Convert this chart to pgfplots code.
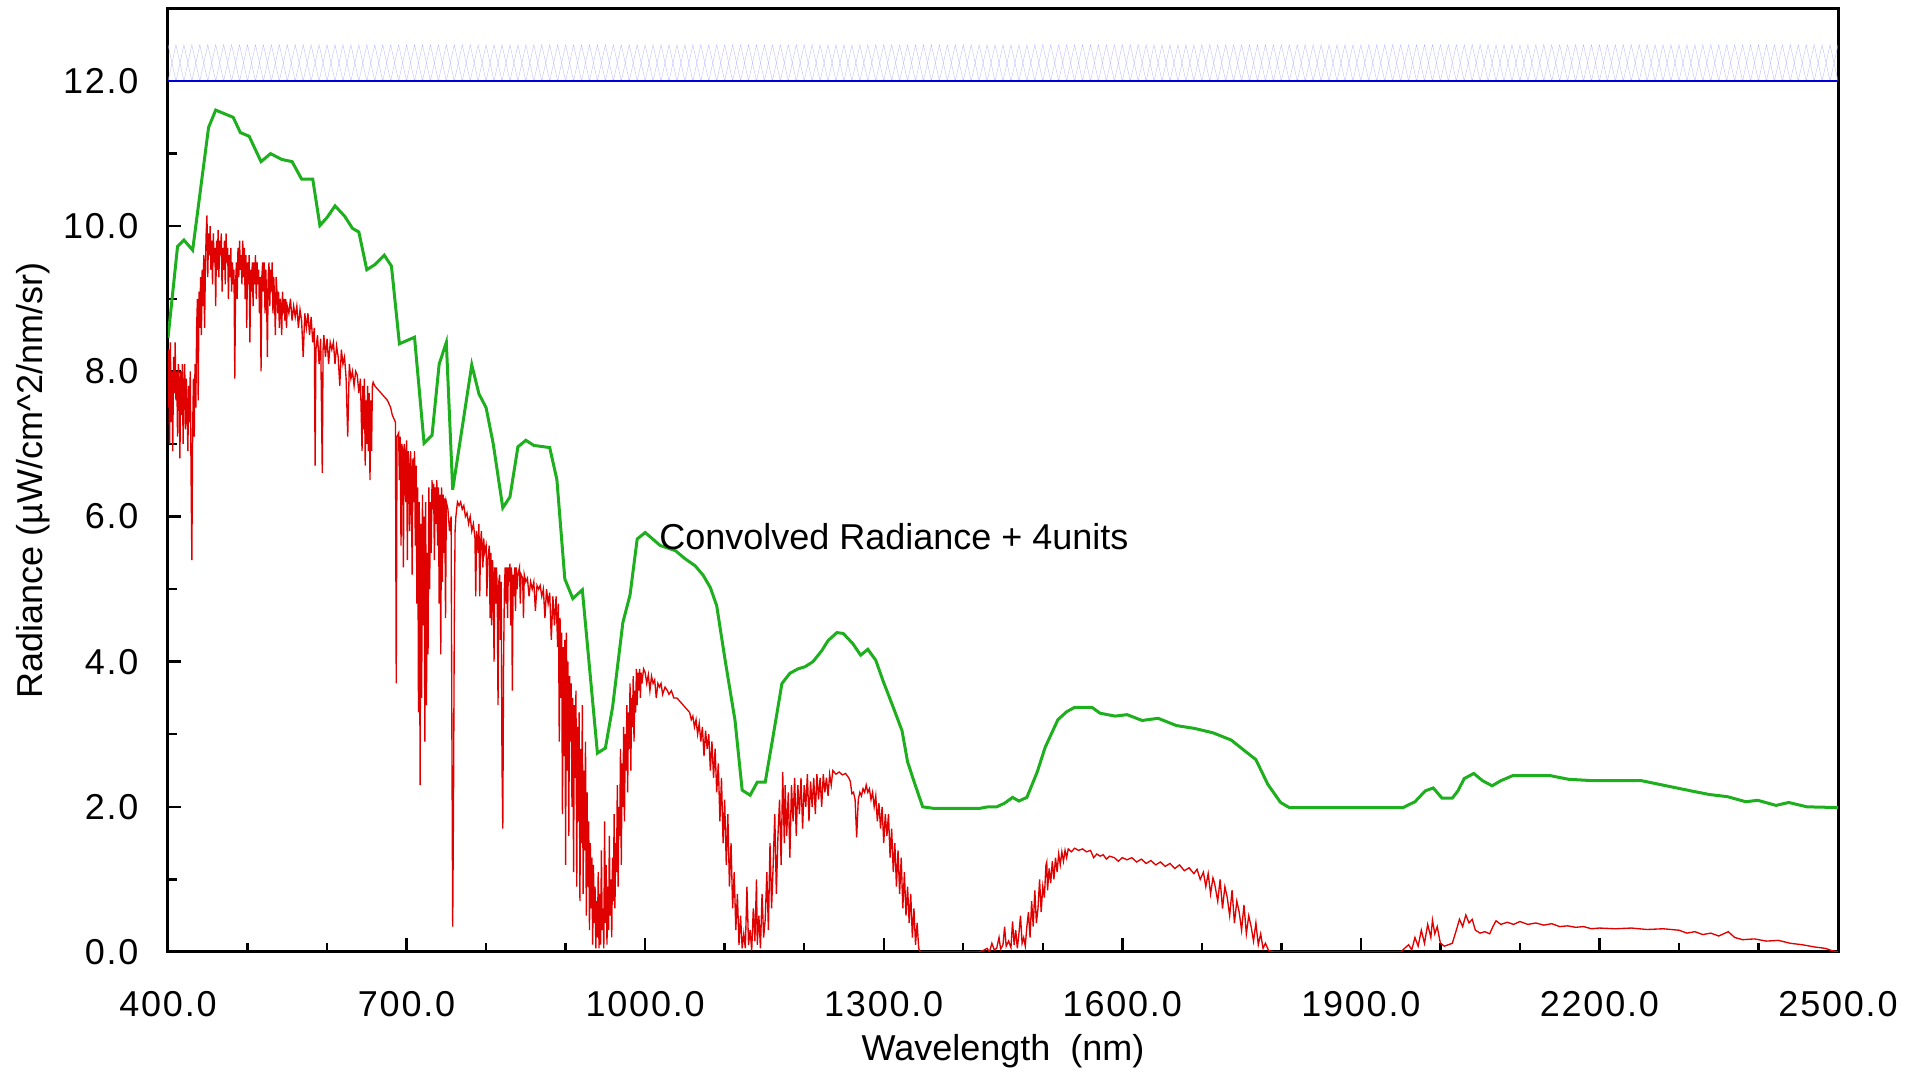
\documentclass[border=0pt]{standalone}
\usepackage{fontspec}
\setmainfont{Liberation Sans}
\newfontfamily\tickfont{Liberation Sans}[LetterSpace=5]
\usepackage{pgfplots}
\usepackage{pgfplotstable}
\pgfplotsset{compat=1.18}
\definecolor{specred}{RGB}{225,0,0}
\definecolor{specgreen}{RGB}{30,175,30}
\definecolor{specblue}{RGB}{0,0,215}

\pgfplotstableread[row sep=\\]{
x a b\\
400 12.5 12\\410 12 12.5\\420 12.5 12\\430 12 12.5\\440 12.5 12\\450 12 12.5\\460 12.5 12\\470 12 12.5\\480 12.5 12\\490 12 12.5\\
500 12.5 12\\510 12 12.5\\520 12.5 12\\530 12 12.5\\540 12.5 12\\550 12 12.5\\560 12.5 12\\570 12 12.5\\580 12.5 12\\590 12 12.5\\
600 12.5 12\\610 12 12.5\\620 12.5 12\\630 12 12.5\\640 12.5 12\\650 12 12.5\\660 12.5 12\\670 12 12.5\\680 12.5 12\\690 12 12.5\\
700 12.5 12\\710 12 12.5\\720 12.5 12\\730 12 12.5\\740 12.5 12\\750 12 12.5\\760 12.5 12\\770 12 12.5\\780 12.5 12\\790 12 12.5\\
800 12.5 12\\810 12 12.5\\820 12.5 12\\830 12 12.5\\840 12.5 12\\850 12 12.5\\860 12.5 12\\870 12 12.5\\880 12.5 12\\890 12 12.5\\
900 12.5 12\\910 12 12.5\\920 12.5 12\\930 12 12.5\\940 12.5 12\\950 12 12.5\\960 12.5 12\\970 12 12.5\\980 12.5 12\\990 12 12.5\\
1000 12.5 12\\1010 12 12.5\\1020 12.5 12\\1030 12 12.5\\1040 12.5 12\\1050 12 12.5\\1060 12.5 12\\1070 12 12.5\\1080 12.5 12\\1090 12 12.5\\
1100 12.5 12\\1110 12 12.5\\1120 12.5 12\\1130 12 12.5\\1140 12.5 12\\1150 12 12.5\\1160 12.5 12\\1170 12 12.5\\1180 12.5 12\\1190 12 12.5\\
1200 12.5 12\\1210 12 12.5\\1220 12.5 12\\1230 12 12.5\\1240 12.5 12\\1250 12 12.5\\1260 12.5 12\\1270 12 12.5\\1280 12.5 12\\1290 12 12.5\\
1300 12.5 12\\1310 12 12.5\\1320 12.5 12\\1330 12 12.5\\1340 12.5 12\\1350 12 12.5\\1360 12.5 12\\1370 12 12.5\\1380 12.5 12\\1390 12 12.5\\
1400 12.5 12\\1410 12 12.5\\1420 12.5 12\\1430 12 12.5\\1440 12.5 12\\1450 12 12.5\\1460 12.5 12\\1470 12 12.5\\1480 12.5 12\\1490 12 12.5\\
1500 12.5 12\\1510 12 12.5\\1520 12.5 12\\1530 12 12.5\\1540 12.5 12\\1550 12 12.5\\1560 12.5 12\\1570 12 12.5\\1580 12.5 12\\1590 12 12.5\\
1600 12.5 12\\1610 12 12.5\\1620 12.5 12\\1630 12 12.5\\1640 12.5 12\\1650 12 12.5\\1660 12.5 12\\1670 12 12.5\\1680 12.5 12\\1690 12 12.5\\
1700 12.5 12\\1710 12 12.5\\1720 12.5 12\\1730 12 12.5\\1740 12.5 12\\1750 12 12.5\\1760 12.5 12\\1770 12 12.5\\1780 12.5 12\\1790 12 12.5\\
1800 12.5 12\\1810 12 12.5\\1820 12.5 12\\1830 12 12.5\\1840 12.5 12\\1850 12 12.5\\1860 12.5 12\\1870 12 12.5\\1880 12.5 12\\1890 12 12.5\\
1900 12.5 12\\1910 12 12.5\\1920 12.5 12\\1930 12 12.5\\1940 12.5 12\\1950 12 12.5\\1960 12.5 12\\1970 12 12.5\\1980 12.5 12\\1990 12 12.5\\
2000 12.5 12\\2010 12 12.5\\2020 12.5 12\\2030 12 12.5\\2040 12.5 12\\2050 12 12.5\\2060 12.5 12\\2070 12 12.5\\2080 12.5 12\\2090 12 12.5\\
2100 12.5 12\\2110 12 12.5\\2120 12.5 12\\2130 12 12.5\\2140 12.5 12\\2150 12 12.5\\2160 12.5 12\\2170 12 12.5\\2180 12.5 12\\2190 12 12.5\\
2200 12.5 12\\2210 12 12.5\\2220 12.5 12\\2230 12 12.5\\2240 12.5 12\\2250 12 12.5\\2260 12.5 12\\2270 12 12.5\\2280 12.5 12\\2290 12 12.5\\
2300 12.5 12\\2310 12 12.5\\2320 12.5 12\\2330 12 12.5\\2340 12.5 12\\2350 12 12.5\\2360 12.5 12\\2370 12 12.5\\2380 12.5 12\\2390 12 12.5\\
2400 12.5 12\\2410 12 12.5\\2420 12.5 12\\2430 12 12.5\\2440 12.5 12\\2450 12 12.5\\2460 12.5 12\\2470 12 12.5\\2480 12.5 12\\2490 12 12.5\\
2500 12.5 12\\
}\bluetab

\pgfplotstableread{
x y
400 8.46
412 9.72
420 9.81
431 9.67
451 11.36
460 11.6
482 11.5
491 11.29
502 11.24
517 10.89
529 11.0
543 10.92
556 10.89
568 10.65
582 10.65
591 10.01
600 10.12
610 10.28
622 10.14
632 9.97
640 9.92
650 9.40
660 9.47
672 9.60
681 9.45
691 8.38
710 8.47
722 7.01
732 7.12
741 8.10
750 8.40
758 6.37
782 8.09
791 7.69
800 7.50
809 7.00
821 6.12
830 6.27
840 6.96
850 7.05
860 6.98
880 6.95
889 6.51
899 5.14
909 4.87
921 4.99
940 2.74
950 2.81
959 3.37
972 4.54
981 4.92
990 5.69
1000 5.78
1019 5.60
1038 5.53
1050 5.42
1063 5.32
1073 5.19
1082 5.02
1090 4.77
1100 4.06
1113 3.19
1122 2.23
1132 2.16
1141 2.34
1151 2.34
1161 2.98
1172 3.70
1182 3.84
1192 3.90
1201 3.93
1211 4.00
1222 4.15
1230 4.29
1241 4.40
1249 4.39
1261 4.25
1271 4.09
1280 4.17
1290 4.02
1299 3.74
1312 3.37
1323 3.05
1330 2.62
1339 2.32
1349 2.00
1362 1.98
1421 1.98
1431 2.00
1442 2.00
1452 2.05
1462 2.13
1470 2.08
1480 2.13
1493 2.48
1503 2.82
1519 3.20
1530 3.31
1540 3.37
1562 3.37
1572 3.29
1591 3.25
1606 3.27
1625 3.19
1645 3.22
1668 3.12
1691 3.08
1714 3.02
1737 2.92
1753 2.78
1768 2.65
1783 2.31
1799 2.06
1810 1.99
1953 1.99
1968 2.07
1981 2.22
1991 2.26
2002 2.12
2015 2.12
2022 2.22
2030 2.39
2042 2.46
2053 2.36
2065 2.29
2076 2.36
2091 2.43
2138 2.43
2161 2.38
2192 2.36
2253 2.36
2284 2.29
2315 2.22
2338 2.17
2361 2.14
2384 2.07
2399 2.09
2422 2.02
2438 2.06
2461 2.00
2500 1.99
}\greentab

\pgfplotstableread{
x y
400 7.5
401 8.3
402 7.0
403 8.4
404 7.3
405 8.0
406 6.9
407 8.2
408 7.7
409 8.4
410 7.6
411 8.0
412 7.1
413 8.1
414 7.9
415 6.8
416 8.0
417 7.4
418 8.1
419 7.0
420 7.8
421 8.1
422 7.2
423 7.9
424 7.5
425 6.9
426 7.8
427 7.3
428 8.0
429 6.6
430 5.4
431 7.2
432 7.9
433 7.1
434 8.1
435 7.5
436 8.6
437 9.0
438 7.6
439 9.1
440 8.6
441 9.3
442 8.5
443 9.4
444 8.9
445 9.6
446 8.6
447 9.4
448 9.9
449 10.15
450 9.3
451 9.9
452 9.6
453 10.0
454 9.4
455 9.8
456 9.2
457 9.9
458 9.5
459 9.7
460 8.9
461 9.8
462 9.4
463 9.95
464 9.3
465 9.8
466 9.6
467 9.9
468 9.1
469 9.7
470 9.4
471 9.8
472 9.2
473 9.9
474 9.5
475 9.7
476 9.0
477 9.6
478 9.3
479 9.7
480 9.1
481 9.5
482 9.2
483 9.4
484 7.9
485 9.2
486 9.5
487 9.0
488 9.7
489 9.3
490 9.8
491 9.4
492 9.6
493 9.2
494 9.8
495 9.3
496 9.7
497 9.0
498 9.6
499 8.6
500 9.5
501 9.2
502 9.6
503 8.4
504 9.4
505 9.1
506 9.5
507 8.9
508 9.5
509 9.2
510 9.6
511 9.0
512 9.5
513 9.2
514 9.4
515 8.8
516 9.3
517 8.0
518 9.3
519 9.5
520 9.1
521 9.5
522 8.8
523 9.4
524 9.0
525 8.2
526 9.3
527 9.5
528 8.9
529 9.4
530 9.1
531 9.5
532 8.8
533 9.3
534 9.0
535 8.5
536 9.3
537 9.1
538 8.8
539 9.1
540 8.6
541 9.0
542 8.9
543 8.5
544 9.1
545 8.8
546 9.0
547 8.7
548 9.0
549 8.6
550 8.9
552 8.8
554 9.0
556 8.7
558 8.9
560 8.75
562 8.9
564 8.6
566 8.85
568 8.7
570 8.2
572 8.8
574 8.6
576 8.8
578 8.5
580 8.75
582 8.4
584 8.6
585 6.7
586 8.3
588 8.5
590 8.1
592 8.45
594 6.6
595 8.3
596 8.5
598 8.2
600 8.45
602 8.1
604 8.4
606 8.3
608 8.4
610 8.1
612 8.35
614 8.2
616 7.8
618 8.3
620 8.1
622 8.2
624 7.9
626 7.1
628 8.1
630 7.9
632 8.0
634 7.8
636 8.0
638 7.95
640 7.7
642 7.9
644 6.9
645 7.8
646 7.2
647 7.9
648 6.7
649 7.6
650 7.0
651 7.8
652 6.9
653 7.7
654 6.5
655 7.6
656 6.9
657 7.8
658 7.85
660 7.8
664 7.75
668 7.7
672 7.65
676 7.6
680 7.5
682 7.4
684 7.35
686 7.3
687 3.7
688 7.1
690 7.15
691 6.5
692 7.1
693 5.6
694 7.0
695 6.9
696 5.3
697 7.0
698 6.9
699 6.2
700 7.05
701 5.4
702 6.9
703 6.7
704 5.8
705 6.9
706 6.6
707 5.2
708 6.8
709 6.2
710 6.9
711 5.6
712 6.7
713 4.8
714 6.4
715 3.3
716 6.2
717 2.3
718 5.9
719 3.5
720 6.3
721 4.5
722 6.0
723 2.9
724 6.2
725 3.4
726 5.5
727 4.1
728 6.4
729 5.0
730 6.2
731 5.5
732 6.5
733 6.1
734 6.45
735 5.4
736 6.4
737 5.9
738 6.5
739 5.6
740 6.4
741 4.8
742 6.3
743 4.1
744 6.4
745 5.1
746 6.3
747 5.5
748 6.25
749 4.6
750 6.2
752 6.1
754 5.8
756 6.0
757 3.0
758 0.35
759 2.0
760 4.5
761 5.8
762 6.0
764 6.2
766 6.15
768 6.2
770 6.1
772 6.15
774 6.0
776 6.05
778 5.9
780 6.0
782 5.8
784 5.9
786 5.7
787 4.9
788 5.8
790 5.5
791 5.9
792 4.9
793 5.6
794 5.8
796 5.3
797 5.7
798 5.5
800 5.6
801 4.9
802 5.4
804 5.6
805 4.6
806 5.5
807 4.5
808 5.4
809 5.2
810 4.0
811 5.3
812 4.8
813 5.3
814 5.0
815 3.4
816 5.1
817 5.2
818 4.3
819 5.1
820 2.6
821 1.7
822 4.0
823 5.0
824 5.3
825 4.8
826 5.3
827 4.6
828 5.3
829 5.1
830 5.35
831 4.5
832 5.3
833 3.6
834 5.2
835 4.9
836 5.3
837 4.7
838 5.3
839 5.0
840 5.2
842 5.3
843 4.8
844 5.2
846 5.15
847 4.6
848 5.2
850 5.1
852 5.15
854 4.9
856 5.1
858 5.0
860 5.1
862 4.7
864 5.05
866 5.0
868 5.05
870 4.9
872 5.0
874 4.6
876 5.0
878 4.8
880 4.95
882 4.3
884 4.9
886 4.5
888 4.9
890 4.2
891 4.8
892 2.9
893 4.6
894 3.5
895 4.4
896 1.9
897 4.2
898 2.7
899 4.3
900 1.2
901 4.4
902 2.5
903 4.0
904 1.6
905 3.8
906 2.9
907 3.7
908 2.0
909 3.5
910 1.1
911 3.4
912 2.4
913 3.6
914 0.9
915 3.1
916 1.8
917 3.3
918 0.7
919 2.8
920 1.5
921 3.4
922 0.8
923 2.5
924 1.4
925 2.9
926 0.5
927 2.2
928 0.9
929 1.8
930 0.3
931 1.5
932 0.6
933 1.3
934 0.1
935 1.2
936 0.4
937 0.9
938 0.05
939 0.7
940 0.2
941 1.1
942 0.05
943 0.8
944 0.1
945 1.4
946 0.3
947 0.6
948 0.05
949 1.8
950 0.4
951 1.2
952 0.1
953 0.9
954 0.3
955 1.6
956 0.5
957 1.0
958 0.2
959 1.3
960 0.7
961 1.9
962 0.6
963 1.5
964 1.1
965 2.3
966 0.9
967 2.0
968 1.6
969 2.8
970 1.2
971 2.6
972 2.0
973 3.1
974 1.8
975 3.0
976 2.5
977 3.4
978 2.2
979 3.3
980 2.8
981 3.7
982 2.5
983 3.5
984 3.1
985 3.8
986 2.9
987 3.6
988 3.3
989 3.9
990 3.4
991 3.85
992 3.6
993 3.9
994 3.5
995 3.85
996 3.7
998 3.9
1000 3.85
1002 3.7
1004 3.82
1006 3.6
1008 3.8
1010 3.7
1012 3.75
1014 3.5
1016 3.7
1018 3.65
1020 3.7
1022 3.55
1025 3.65
1028 3.6
1030 3.55
1033 3.6
1036 3.5
1040 3.5
1044 3.45
1048 3.4
1052 3.35
1056 3.3
1058 3.2
1060 3.25
1062 3.1
1064 3.2
1066 3.0
1068 3.15
1070 2.9
1072 3.1
1074 2.7
1076 3.05
1078 2.8
1080 3.0
1082 2.5
1084 2.9
1086 2.4
1088 2.8
1090 2.2
1092 2.6
1094 1.8
1096 2.4
1098 1.5
1100 2.1
1102 1.2
1104 1.9
1106 0.9
1108 1.5
1110 0.6
1112 1.1
1114 0.3
1116 0.8
1118 0.1
1120 0.5
1122 0.05
1124 0.25
1126 0.05
1128 0.9
1130 0.1
1132 0.3
1134 0.02
1136 0.6
1138 0.15
1140 1.0
1141 0.1
1143 0.5
1145 0.05
1147 0.8
1149 0.2
1151 0.45
1153 1.1
1155 0.3
1157 1.5
1159 0.6
1161 1.2
1163 1.9
1165 0.8
1167 1.6
1169 2.1
1171 1.2
1173 2.48
1175 1.5
1176 2.3
1178 1.6
1180 2.2
1182 1.3
1184 2.3
1186 1.8
1188 2.4
1190 1.6
1192 2.3
1194 1.9
1196 2.4
1198 1.7
1200 2.3
1202 2.0
1204 2.45
1206 1.8
1208 2.35
1210 2.0
1212 2.4
1214 1.9
1216 2.45
1218 2.1
1220 2.4
1222 2.0
1224 2.45
1226 2.2
1228 2.4
1230 2.15
1232 2.45
1234 2.3
1236 2.5
1240 2.45
1244 2.48
1248 2.44
1252 2.46
1256 2.4
1258 2.35
1260 2.18
1262 2.2
1264 2.1
1266 1.58
1268 2.1
1270 2.2
1272 2.15
1274 2.25
1276 2.2
1278 2.3
1280 2.2
1282 2.25
1284 2.1
1286 2.2
1288 2.0
1290 2.15
1292 1.8
1294 2.05
1296 1.7
1298 2.0
1300 1.5
1302 1.9
1304 1.6
1306 1.9
1308 1.3
1310 1.7
1312 1.1
1314 1.5
1316 0.9
1318 1.4
1320 0.8
1322 1.3
1324 0.6
1326 1.1
1328 0.5
1330 0.9
1332 0.4
1334 0.8
1336 0.2
1338 0.6
1340 0.1
1342 0.4
1344 0.05
1346 0
1420 0
1425 0.02
1430 0.05
1433 0.0
1436 0.12
1439 0.03
1442 0.05
1445 0.2
1447 0.04
1450 0.1
1452 0.35
1454 0.08
1457 0.15
1460 0.06
1462 0.42
1464 0.1
1466 0.3
1468 0.05
1470 0.25
1472 0.5
1474 0.12
1476 0.2
1478 0.08
1480 0.35
1482 0.55
1484 0.2
1486 0.7
1488 0.35
1490 0.85
1492 0.4
1494 0.6
1496 1.0
1498 0.55
1500 0.9
1502 0.75
1504 1.2
1505 1.24
1506 0.85
1508 1.15
1510 0.95
1512 1.25
1514 1.0
1516 1.3
1518 1.1
1520 1.35
1522 1.2
1524 1.38
1526 1.25
1528 1.4
1530 1.3
1532 1.42
1536 1.38
1540 1.43
1545 1.4
1550 1.42
1555 1.38
1560 1.4
1564 1.3
1568 1.35
1572 1.32
1576 1.34
1580 1.28
1584 1.32
1590 1.3
1595 1.25
1600 1.3
1606 1.27
1612 1.3
1618 1.24
1624 1.28
1630 1.22
1636 1.26
1642 1.2
1648 1.24
1654 1.18
1660 1.22
1666 1.15
1672 1.2
1678 1.12
1684 1.16
1690 1.08
1694 1.14
1698 1.0
1702 1.1
1705 0.9
1708 1.08
1711 0.8
1714 1.02
1716 0.95
1720 0.7
1723 1.0
1726 0.6
1729 0.9
1732 0.75
1735 0.5
1738 0.85
1741 0.4
1744 0.7
1747 0.55
1750 0.3
1753 0.65
1756 0.25
1759 0.5
1762 0.35
1765 0.15
1768 0.4
1771 0.1
1774 0.25
1777 0.05
1780 0.12
1784 0.02
1790 0
1950 0
1955 0.05
1960 0.1
1964 0.03
1968 0.2
1972 0.08
1976 0.3
1980 0.12
1984 0.38
1988 0.2
1990 0.44
1993 0.25
1996 0.35
2000 0.12
2005 0.08
2010 0.1
2015 0.12
2020 0.3
2024 0.45
2028 0.35
2032 0.51
2036 0.4
2040 0.45
2044 0.3
2050 0.26
2056 0.28
2062 0.25
2066 0.35
2070 0.43
2076 0.38
2084 0.41
2092 0.38
2100 0.42
2110 0.38
2120 0.4
2130 0.37
2140 0.39
2150 0.35
2160 0.36
2170 0.34
2180 0.35
2190 0.32
2200 0.33
2220 0.32
2240 0.33
2260 0.31
2280 0.32
2300 0.3
2310 0.26
2320 0.28
2330 0.24
2340 0.26
2350 0.22
2362 0.28
2370 0.2
2380 0.17
2395 0.18
2410 0.15
2425 0.16
2440 0.12
2455 0.1
2470 0.07
2484 0.05
2492 0.02
2500 0
}\redtab

\begin{document}
\begin{tikzpicture}[font=\fontsize{12}{14}\selectfont]
\useasboundingbox (-56pt,-41pt) rectangle (584.33pt,317.33pt);
\begin{axis}[
  name=ax, at={(0,0)}, anchor=south west,
  scale only axis, width=556.67pt, height=314.5pt,
  xmin=400, xmax=2500, ymin=0, ymax=13,
  xtick={400,700,1000,1300,1600,1900,2200,2500},
  minor x tick num=2,
  ytick={0,2,4,6,8,10,12},
  minor y tick num=1,
  tick pos=left, tick align=inside,
  major tick length=4.5pt, minor tick length=3pt,
  every tick/.style={black, line width=0.8pt},
  axis line style={black, line width=1pt},
  scaled ticks=false,
  /pgf/number format/fixed,
  /pgf/number format/fixed zerofill,
  /pgf/number format/precision=1,
  /pgf/number format/1000 sep={},
  /pgf/number format/assume math mode=true,
  tick label style={font=\fontsize{12}{14}\tickfont},
  xticklabel style={yshift=-9.7pt},
  yticklabel style={xshift=-6.3pt},
]
\addplot[blue!30, line width=0.1pt] table[x=x, y=a] {\bluetab};
\addplot[blue!30, line width=0.1pt] table[x=x, y=b] {\bluetab};
\addplot[specblue, line width=0.6pt] coordinates {(400,12) (2500,12)};
\addplot[specred, line width=0.45pt] table[x=x, y=y] {\redtab};
\addplot[specgreen, line width=1pt] table[x=x, y=y] {\greentab};
\node[anchor=base west, inner sep=0pt] at (axis cs:1017,5.54) {Convolved Radiance + 4units};
\end{axis}
\node[anchor=base] at ([yshift=-36.3pt]ax.south) {Wavelength\ \ (nm)};
\node[rotate=90] at ([xshift=-45pt]ax.west) {Radiance (µW/cm\textasciicircum{}2/nm/sr)};
\end{tikzpicture}
\end{document}
